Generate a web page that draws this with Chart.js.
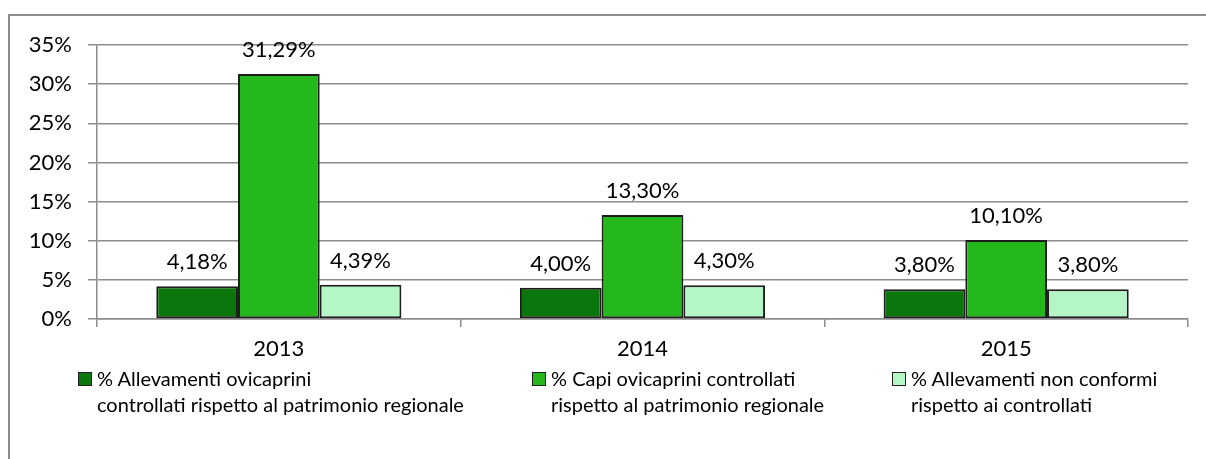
<!DOCTYPE html>
<html><head><meta charset="utf-8">
<script src="https://cdn.jsdelivr.net/npm/chart.js@4"></script>
<style>
html,body{margin:0;padding:0;background:#fff;}
#wrap{position:relative;width:1206px;height:459px;overflow:hidden;font-family:Lato,"Open Sans",sans-serif;}
#frame{position:absolute;left:8px;top:14px;width:1300px;height:500px;border-left:2px solid #8c8c8c;border-top:2px solid #8c8c8c;}
#c{position:absolute;left:0;top:0;}
.leg{position:absolute;font-size:20px;line-height:26px;color:#000;white-space:nowrap;}
.leg .box{position:absolute;left:-19px;top:7px;width:12px;height:12px;border:1px solid #222;}
</style></head>
<body><div id="wrap"><div id="frame"></div><canvas id="c" width="1206" height="459"></canvas>
<div class="leg" id="l0" style="left:97px;top:365px;"><span class="box"></span></div>
<div class="leg" id="l1" style="left:551px;top:365px;"><span class="box"></span></div>
<div class="leg" id="l2" style="left:911px;top:365px;"><span class="box"></span></div>
</div>
<script>
const categories = ['2013', '2014', '2015'];
const seriesNames = [
  ['% Allevamenti ovicaprini', 'controllati rispetto al patrimonio regionale'],
  ['% Capi ovicaprini controllati', 'rispetto al patrimonio regionale'],
  ['% Allevamenti non conformi', 'rispetto ai controllati']
];
const allevamentiControllati = [4.18, 4.00, 3.80];
const capiControllati = [31.29, 13.30, 10.10];
const allevamentiNonConformi = [4.39, 4.30, 3.80];
const yTicks = [0, 5, 10, 15, 20, 25, 30, 35];
const colors = ['#0b760b', '#24b81c', '#b4f6c6'];
const tops = ['#2a922a', '#4fd045', '#e2fdea'];
const FONT = 'Lato, "Open Sans", sans-serif';

seriesNames.forEach((n, i) => {
  const el = document.getElementById('l' + i);
  el.querySelector('.box').style.background = colors[i];
  el.appendChild(document.createTextNode(n[0]));
  el.appendChild(document.createElement('br'));
  el.appendChild(document.createTextNode(n[1]));
});

function fillFor(i) {
  return (ctx) => {
    const el = ctx.element;
    if (!el || el.y === undefined) return colors[i];
    const g = ctx.chart.ctx.createLinearGradient(0, el.y, 0, el.y + 12);
    g.addColorStop(0, tops[i]);
    g.addColorStop(1, colors[i]);
    return g;
  };
}

const labelPlugin = {
  id: 'vals',
  afterDatasetsDraw(chart) {
    const c = chart.ctx;
    c.save();
    c.font = '22px ' + FONT;
    c.fillStyle = '#000';
    c.textAlign = 'center';
    c.textBaseline = 'middle';
    chart.data.datasets.forEach((ds, di) => {
      chart.getDatasetMeta(di).data.forEach((bar, j) => {
        const v = ds.data[j];
        c.fillText(v.toFixed(2).replace('.', ',') + '%', bar.x, bar.y - 24);
      });
    });
    c.restore();
  }
};

new Chart(document.getElementById('c'), {
  type: 'bar',
  data: {
    labels: categories,
    datasets: [
      { label: seriesNames[0].join(' '), data: allevamentiControllati, backgroundColor: fillFor(0) },
      { label: seriesNames[1].join(' '), data: capiControllati, backgroundColor: fillFor(1) },
      { label: seriesNames[2].join(' '), data: allevamentiNonConformi, backgroundColor: fillFor(2) }
    ].map(d => Object.assign(d, { borderColor: '#1e1e1e', borderWidth: 2, borderSkipped: false, categoryPercentage: 0.674, barPercentage: 1 }))
  },
  options: {
    responsive: false,
    animation: false,
    layout: { padding: { left: 0, top: 45, right: 18, bottom: 0 } },
    plugins: { legend: { display: false }, tooltip: { enabled: false } },
    scales: {
      x: {
        afterFit: s => { s.height = 140; },
        grid: { drawOnChartArea: false, offset: true, tickLength: 8, color: '#8c8c8c', lineWidth: 1.5 },
        border: { color: '#8c8c8c', width: 1.5 },
        ticks: { color: '#000', font: { size: 22, family: FONT }, padding: 9 }
      },
      y: {
        min: 0, max: 35,
        afterFit: s => { s.width = 97; },
        afterBuildTicks: s => { s.ticks = yTicks.map(v => ({ value: v })); },
        grid: { color: '#8c8c8c', lineWidth: 1.5, tickLength: 9 },
        border: { color: '#8c8c8c', width: 1.5 },
        ticks: { color: '#000', font: { size: 22, family: FONT }, padding: 16, callback: v => v + '%' }
      }
    }
  },
  plugins: [labelPlugin]
});
</script></body></html>
